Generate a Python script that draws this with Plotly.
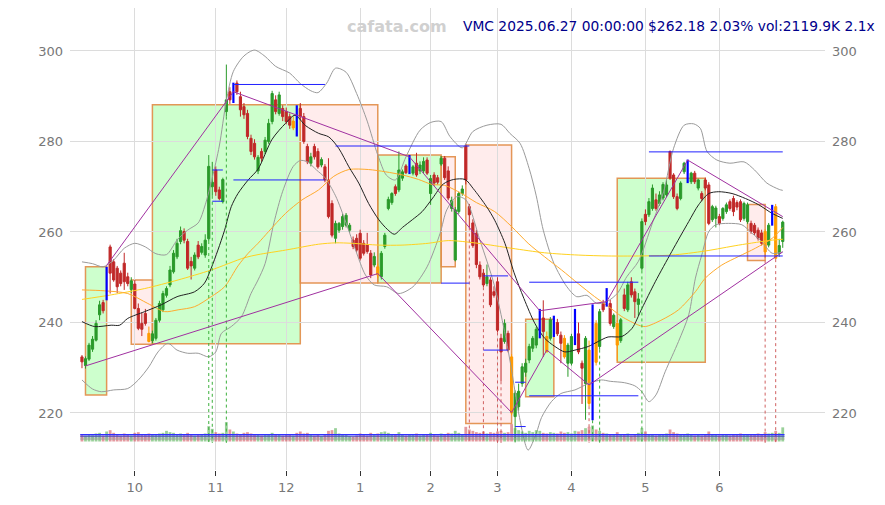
import pandas as pd
import plotly.graph_objects as go

# ---------------- data ----------------
holidays = ['2024-11-28', '2024-12-25', '2025-01-01', '2025-01-09', '2025-01-20',
            '2025-02-17', '2025-04-18', '2025-05-26', '2025-06-19']
dates = pd.bdate_range('2024-09-10', '2025-06-27', freq='C', holidays=holidays)

opens = [232.4,230.5,231.9,234.1,236.1,241.7,244.4,246.4,256.7,253.4,
 252.0,250.9,253.1,250.1,247.3,248.5,243.1,239.8,242.0,237.6,
 236.0,236.5,240.5,242.8,246.0,248.3,251.2,254.5,257.9,260.1,
 257.9,253.5,252.0,257.1,255.5,254.9,258.5,270.0,273.7,269.3,
 266.7,286.6,291.0,289.2,292.9,289.9,287.7,286.2,280.7,279.6,
 273.5,277.8,277.8,280.0,284.4,289.2,286.2,287.3,286.6,285.5,
 283.0,286.8,287.3,285.5,278.9,275.2,278.9,277.8,274.8,274.4,
 271.5,266.3,258.6,260.4,261.2,261.5,260.4,258.2,258.6,259.7,
 257.5,257.1,255.3,252.7,252.3,250.1,256.8,265.2,266.5,270.0,
 269.3,271.9,274.6,273.3,273.0,275.2,273.5,273.5,275.9,268.5,
 272.6,272.0,275.0,276.3,273.5,265.2,253.8,264.5,268.5,279.0,
 265.6,262.0,259.7,252.7,250.9,248.6,249.4,246.8,249.0,236.5,
 235.8,237.6,232.4,219.2,221.4,226.5,229.0,231.7,234.3,235.0,
 237.0,241.0,236.9,236.5,237.2,240.0,237.2,236.5,231.0,231.0,
 235.4,237.5,231.0,226.5,233.9,223.0,239.8,234.7,244.2,243.9,
 244.2,239.1,239.8,236.0,246.1,242.8,249.0,246.8,244.0,252.0,
 263.9,263.8,265.2,267.1,266.3,267.5,268.2,277.8,272.6,267.8,
 267.4,273.3,271.1,271.1,273.0,269.7,268.5,271.5,270.4,262.7,
 263.0,263.4,263.0,264.5,266.7,267.4,266.5,266.7,263.0,262.3,
 261.9,261.5,260.4,259.8,260.1,257.1,261.9,265.6,255.3,257.9]

highs = [232.8,232.5,235.5,237.0,240.5,244.8,245.0,252.3,257.2,254.0,
 252.5,251.5,255.4,251.0,250.0,249.4,244.2,242.2,243.0,239.1,
 238.2,241.0,244.8,247.0,248.0,252.5,256.0,258.5,261.2,260.8,
 258.5,254.5,255.5,258.0,257.5,259.5,277.0,275.5,274.5,270.0,
 272.0,297.0,292.0,293.0,293.5,291.0,288.5,287.0,281.5,280.5,
 277.0,278.5,281.0,285.0,291.2,290.2,291.0,288.0,287.5,286.2,
 285.5,288.0,288.5,286.3,279.5,277.5,279.5,278.5,276.5,275.0,
 276.3,267.0,262.5,262.2,264.0,264.2,262.0,259.0,259.5,260.5,
 258.2,259.8,256.0,255.5,253.0,255.8,259.8,267.8,268.8,270.5,
 277.8,273.8,275.0,277.0,274.8,277.5,275.6,276.5,276.5,272.6,
 273.2,272.6,276.8,276.8,274.5,267.8,265.5,268.9,270.3,279.5,
 266.2,262.8,260.5,253.5,251.8,252.8,250.0,248.0,250.0,237.5,
 240.7,238.2,233.0,225.0,226.5,231.0,232.0,235.3,237.0,239.0,
 243.0,244.9,238.0,241.2,241.5,240.8,238.0,237.2,235.5,237.5,
 243.0,240.0,231.6,237.0,236.0,244.0,240.5,243.0,245.0,247.6,
 245.0,242.0,240.5,241.0,247.5,249.0,250.0,247.5,246.5,263.0,
 265.0,267.5,270.5,268.5,269.0,271.0,271.5,278.0,273.0,268.5,
 271.2,275.5,276.0,273.3,273.5,271.8,269.0,272.0,271.0,266.0,
 265.8,264.0,265.5,266.5,267.2,268.0,267.0,267.2,266.7,266.5,
 262.5,262.0,261.0,260.5,260.6,262.0,266.0,266.2,258.5,262.5]

lows = [229.9,229.8,231.5,233.5,235.8,240.5,242.0,244.9,246.4,249.0,
 246.5,248.0,247.2,248.0,246.5,242.9,238.3,237.0,239.3,235.6,
 235.4,236.0,240.0,242.3,245.5,247.8,250.8,254.0,257.3,257.5,
 251.6,249.5,251.5,254.0,255.0,254.3,258.0,268.0,268.0,267.0,
 266.3,285.5,288.3,288.5,290.3,285.5,285.0,280.5,277.0,276.0,
 272.8,275.5,277.2,279.5,283.8,286.0,285.7,284.5,283.8,282.8,
 282.5,281.1,284.8,279.5,275.0,274.5,276.0,274.0,274.3,271.0,
 263.0,258.8,257.5,259.8,260.5,261.0,259.8,256.2,255.5,253.7,
 254.8,255.2,249.8,252.2,249.8,249.5,256.3,264.8,266.0,268.0,
 268.8,271.3,272.8,272.8,272.5,272.2,272.8,273.0,272.6,266.0,
 270.2,270.5,274.6,271.5,267.0,264.5,253.5,264.0,268.0,270.5,
 261.0,256.5,252.0,249.5,247.8,248.0,243.4,245.5,237.8,227.0,
 235.3,233.4,219.5,213.5,220.5,225.8,228.0,231.0,233.5,234.3,
 236.5,232.4,233.4,236.0,236.8,237.0,231.0,232.0,228.0,230.5,
 235.0,233.0,222.0,218.5,221.5,218.4,230.5,234.0,242.3,243.5,
 239.3,238.6,231.5,235.5,242.5,242.3,245.5,241.0,241.5,251.5,
 261.5,263.3,264.7,264.7,265.8,267.0,267.7,271.5,267.3,264.8,
 267.0,272.8,270.8,270.6,270.6,269.2,266.8,269.2,261.5,262.2,
 261.0,261.5,262.5,264.0,264.7,263.5,264.8,262.2,262.5,261.8,
 259.6,259.3,258.1,257.0,255.0,256.6,261.4,254.0,254.5,256.5]

closes = [231.3,232.0,235.0,236.3,239.8,243.9,242.6,251.0,250.9,249.4,
 247.9,248.6,249.0,248.6,249.2,243.1,238.7,238.5,239.8,235.8,
 237.5,240.5,244.2,246.4,247.5,251.6,255.3,257.5,260.3,258.2,
 252.0,252.5,254.9,254.5,256.8,258.2,274.5,271.0,268.9,267.4,
 271.6,289.2,289.2,292.5,291.0,287.0,285.9,281.1,277.8,276.6,
 276.5,276.3,280.3,284.0,290.6,286.6,290.3,285.5,284.4,283.6,
 284.5,282.5,285.5,280.0,275.5,276.6,276.6,274.4,276.0,271.5,
 263.4,259.3,261.9,261.9,263.4,263.7,261.5,256.8,256.0,254.2,
 255.3,255.7,250.5,254.6,250.5,255.3,259.3,267.2,268.5,268.5,
 273.7,273.3,273.1,276.6,274.4,272.6,274.8,275.6,273.0,271.8,
 270.8,271.0,276.3,272.0,267.5,267.0,264.9,268.5,269.5,271.5,
 263.8,257.0,252.8,250.1,248.3,250.1,243.9,246.0,238.3,233.5,
 239.8,233.9,220.0,224.4,224.8,230.2,231.0,234.7,236.5,238.5,
 242.5,238.0,233.5,240.6,241.0,237.5,235.4,232.4,235.0,236.9,
 242.0,233.5,229.9,236.5,222.1,243.5,231.2,242.4,242.8,247.0,
 239.8,241.6,235.0,240.6,243.1,248.3,246.1,244.6,245.2,262.3,
 262.3,266.7,269.7,265.2,268.2,270.5,270.4,271.9,267.8,265.2,
 270.8,275.2,275.9,273.0,271.1,271.5,267.4,269.7,261.9,265.6,
 265.3,261.9,265.2,266.0,265.2,264.5,265.5,262.7,266.3,266.0,
 260.1,259.8,258.6,257.5,255.6,261.5,265.6,254.2,257.0,262.18]

volumes_k = [1100,900,1000,950,1200,1300,900,1500,1700,1300,
 1100,900,1200,1000,900,1300,1400,1100,1000,1200,
 1000,1100,1200,1300,1600,1400,1300,1100,1200,1000,
 1300,1000,900,1100,1000,1200,2300,1900,1400,1200,
 1300,2900,1800,1500,1200,1100,1300,1400,1200,1100,
 1000,900,1000,1100,1300,1000,1100,900,1000,1100,
 900,1300,1500,1200,1300,1000,900,1000,800,1100,
 1600,1700,2000,1200,1000,1100,800,700,900,1200,
 1000,900,1300,1100,1200,1400,1500,1300,1100,1000,
 1400,1000,900,1100,1000,1200,900,1000,1100,1300,
 1000,900,1200,1100,1300,1200,1600,1300,1100,2200,
 1800,1600,1400,1300,1500,1200,1400,1300,1500,1600,
 1300,1400,2600,2000,1700,1500,1300,1600,1400,1700,
 1600,1300,1200,1400,1300,1200,1500,1300,1400,1200,
 1600,1500,1700,2000,2200,2400,1800,1600,1300,1200,
 1100,1000,1400,1000,1100,1200,900,1000,1300,2000,
 1500,1100,1000,900,1100,1000,1200,1800,1400,1200,
 1000,1100,1200,1000,900,1000,900,1100,1500,1100,
 1000,900,1000,1100,900,1000,1000,1200,1100,1000,
 1100,1000,1200,1100,1400,1200,1300,1600,1300,2120]

blue_idx = [7, 43, 61, 93, 130, 134, 140, 145, 149, 172, 196]
orange_idx = [19, 60, 84, 122, 132, 137, 144, 146, 152, 194, 197]

# moving averages / bands (index, price)
ma_black_i = [0,3.6,8.3,10.7,13,17.8,22.5,27,32,34.8,36.7,38.6,40.5,42.4,44.3,47.2,50,54,57.8,60.5,63.5,67.2,70.1,72.9,75.8,78.6,81.4,84.3,86.7,88.7,91,93.8,96.6,99.6,102.6,105.5,108.8,111.1,114.9,117.2,120.1,122.7,125.5,128.6,131.4,134.3,137.1,140,143.8,146.6,149.4,153.3,156.2,159,162.8,167.5,172.3,175.1,178,180.8,184.6,188.4,192.2,196,199]
ma_black_p = [240.2,239.1,239.4,239.4,240.9,242.4,243.9,245.7,246.8,248.7,252,256,260.4,265.6,268.5,271.5,273.9,280.5,284,285.8,283.5,281.8,281,278.5,274.4,270.8,266.3,262.7,260.6,259.5,261,262.7,264.5,267.5,270.6,271.6,271.6,269.6,265.6,262.6,257.5,251,245.3,239.8,236.5,234.7,233.5,233.9,234.7,235.8,236.8,236.9,238.7,243.1,249,255.7,262.3,266,268.5,268.9,268.5,267.4,266,264.1,263]

ma_orange_i = [0,6.4,13,18.7,23.5,27.3,32,36.7,40.5,44.3,47.2,50,53,57.8,62.5,67.2,71.5,75.8,81.4,86.2,91,95.6,99.4,103,107.8,112,117.2,122,126.7,131.4,136.2,140.9,145.6,149.4,153.3,158.1,160,164.7,169.4,174.2,177,181.7,186.5,191.2,196,199]
ma_orange_p = [247.2,247,246.4,244.2,242.4,242.8,243.5,245.7,247.9,252.5,255.3,257.5,260.1,264.1,267.1,269.3,272.3,273.8,273.8,273.3,272.6,271.6,270.5,270.3,268.5,266.5,264.5,261.2,257.5,254.5,251.6,248.6,245.7,243.6,241.3,239.4,239.1,240.6,242.8,246.8,249.8,252.7,254.6,256.4,258.6,261]

ma_yellow_i = [0,8.3,17.8,27.3,36.7,46.1,50,57.8,67.2,72,76.7,84.3,90.9,98.3,104,112.5,122,131.4,140.9,149.4,158,167.5,177,186.5,196,199]
ma_yellow_p = [245.1,246.1,247.5,249.4,251.6,254.3,255,256,257.3,257.6,257.5,257.1,257.1,257.5,258.1,257.5,256.4,255.4,254.9,254.7,254.7,254.9,255.8,257.1,258.2,258.4]

bb_up_i = [0,3,6,9,12,15,18,21,24,27,30,33,35,37,39,41,43,46,49,52,55,59,62,65,67,69.5,72,75,78,81,84,86.5,89,92,96,99,102,104.5,108,111,115,119,121.5,124.4,127,129,131,134,137.7,140.5,143.4,146.2,149,152,154.7,158,162,165.2,168,171,173.7,175.6,177.5,180.3,184,188,191,194.5,198,199]
bb_up_p = [253.4,253,252.3,253.8,256.4,257.5,256.7,255.2,255,258.2,260.4,262,266,272,279,289,295.5,298.9,300.2,298.8,296.6,295.1,292.8,291.2,290.8,292.9,296.2,295.3,290.6,284.5,277,272.5,271.5,276.6,282.5,284.2,284.4,281.1,278.6,282.2,283.6,283.8,281.8,279.6,274,268,260.4,253.1,247.9,245.7,246,244.2,244.6,246.4,250.1,253.5,262,269,278.5,283.6,283.9,282.9,277.8,275.9,275.2,275.5,273.7,270.8,269.4,269.2]

bb_lo_i = [0,3,5.5,9,13,16,19,21.6,24.4,27,30,33,36,38,39.6,42.4,45.3,48,50,52,54.5,57,60,62,64,66.6,69,72,75,77.7,80.5,83,86.5,90,94,98,101.7,103.6,106.4,109,113,117,120,122,124,126.7,129,130.5,133.3,136,140,143.8,147.5,150,154,157,159,161,163,165.6,169.4,172.3,174.2,176,178,180,183.6,187.4,190.3,193,196,199]
bb_lo_p = [227.3,225.3,224.7,225.1,225.4,227.3,230.2,233.5,235.4,233.9,233.2,233.2,232.4,233.5,237.6,239.1,241.3,246.4,249.4,253,262,269,274.5,275.8,275.5,273.7,272,268,262,256,250.5,248.3,247.9,246.4,247.9,252.3,259.7,264.9,267.8,267.1,258.2,248.5,238,229.5,220,211.8,215.5,219,222.5,224.3,225.1,226.5,227.3,227,226.7,226,224.7,222.5,224,229.1,235.8,241.7,249.8,254.9,260.1,261.6,261.9,261.6,259.7,257.9,255.3,255.6]

# trend lines through pivots
up_trend_i = [7, 43, 93, 130, 149, 172, 199]
up_trend_p = [252.6, 291.0, 276.6, 242.6, 244.6, 275.9, 263.4]
lo_trend_i = [1, 84, 122, 132, 144, 199]
lo_trend_p = [230.4, 250.8, 220.1, 233.9, 226.2, 255.6]

# support / resistance segments (start idx, end idx, price)
hl_start = [43, 43, 37, 37, 72, 102, 114, 114, 123, 123, 127, 127, 161, 161]
hl_end = [69, 69, 40, 40, 110, 110, 121, 121, 126, 126, 158, 158, 199, 199]
hl_price = [292.6, 271.5, 273.7, 266.8, 279.0, 248.7, 250.3, 233.9, 226.8, 217.0, 248.9, 223.8, 277.7, 254.7]

# zones (start idx, end idx, low, high, kind)
box_start = [1, 14, 20, 62, 84, 102, 109, 126, 152, 189]
box_end = [7, 20, 62, 84, 102, 106, 122, 134, 177, 194]
box_low = [224.0, 235.2, 235.3, 248.7, 248.7, 252.3, 217.7, 223.6, 231.2, 253.7]
box_high = [252.3, 249.4, 288.1, 288.1, 277.0, 276.6, 279.2, 240.7, 271.9, 266.1]
box_kind = ['up', 'down', 'up', 'down', 'up', 'down', 'down', 'up', 'up', 'down']

dot_green_idx = [36, 37, 41, 145, 147, 159]
dot_red_idx = [110, 114, 118, 119, 144, 194, 197]

vol_line_levels = [1020, 720, 375]

y_ticks = [220, 240, 260, 280, 300]
title_text = "VMC 2025.06.27 00:00:00 $262.18 2.03% vol:2119.9K 2.1x"
watermark = "cafata.com"

# ---------------- figure ----------------
idx = list(range(len(dates)))
month_ticks = [i for i in idx[1:] if dates[i].month != dates[i - 1].month]
month_labels = [str(dates[i].month) for i in month_ticks]

fig = go.Figure()

for x0, x1, y0, y1, k in zip(box_start, box_end, box_low, box_high, box_kind):
    fig.add_shape(type='rect', xref='x', yref='y', x0=x0, x1=x1, y0=y0, y1=y1,
                  fillcolor='rgba(60,255,60,0.26)' if k == 'up' else 'rgba(255,170,170,0.22)',
                  line=dict(color='rgba(225,140,70,0.9)', width=1.5), layer='below')

# volume
vol_colors = ['rgba(70,170,70,0.55)' if c >= o else 'rgba(205,70,80,0.55)'
              for o, c in zip(opens, closes)]
for lvl, col, w in zip(vol_line_levels, ['#3030ff', '#5050b0', '#999999'], [1.5, 1, 1]):
    fig.add_trace(go.Scatter(x=[-0.5, idx[-1] + 0.5], y=[lvl, lvl], mode='lines',
                             line=dict(color=col, width=w), yaxis='y3', hoverinfo='skip'))
fig.add_trace(go.Bar(x=idx, y=volumes_k, marker=dict(color=vol_colors, line=dict(width=0)),
                     width=0.8, yaxis='y3', hoverinfo='skip'))

# bands and averages
for xs, ys, col in [(bb_up_i, bb_up_p, '#9a9a9a'), (bb_lo_i, bb_lo_p, '#9a9a9a'),
                    (ma_yellow_i, ma_yellow_p, '#ffd21f'), (ma_orange_i, ma_orange_p, '#ffab2e'),
                    (ma_black_i, ma_black_p, '#222222')]:
    fig.add_trace(go.Scatter(x=xs, y=ys, mode='lines', line=dict(color=col, width=1, shape='spline', smoothing=0.8),
                             hoverinfo='skip'))

# dotted verticals
for lst, col in [(dot_green_idx, '#3cb03c'), (dot_red_idx, '#d06060')]:
    xs, ys = [], []
    for i in lst:
        xs += [i, i, None]
        ys += [lows[i], 213.4, None]
    fig.add_trace(go.Scatter(x=xs, y=ys, mode='lines', line=dict(color=col, width=1, dash='dot'),
                             hoverinfo='skip'))

# candles
normal = [i for i in idx if i not in blue_idx and i not in orange_idx]
fig.add_trace(go.Candlestick(
    x=normal, open=[opens[i] for i in normal], high=[highs[i] for i in normal],
    low=[lows[i] for i in normal], close=[closes[i] for i in normal],
    increasing=dict(line=dict(color='#2a9a2a', width=1), fillcolor='#2a9a2a'),
    decreasing=dict(line=dict(color='#c02828', width=1), fillcolor='#c02828'),
    hoverinfo='skip'))
fig.add_trace(go.Candlestick(
    x=orange_idx, open=[opens[i] for i in orange_idx], high=[highs[i] for i in orange_idx],
    low=[lows[i] for i in orange_idx], close=[closes[i] for i in orange_idx],
    increasing=dict(line=dict(color='#ff9a00', width=1), fillcolor='#ff9a00'),
    decreasing=dict(line=dict(color='#ff9a00', width=1), fillcolor='#ff9a00'),
    hoverinfo='skip'))
bx, by = [], []
for i in blue_idx:
    bx += [i, i, None]
    by += [lows[i], highs[i], None]
fig.add_trace(go.Scatter(x=bx, y=by, mode='lines', line=dict(color='#0000ff', width=2.2), hoverinfo='skip'))

# trend lines
fig.add_trace(go.Scatter(x=up_trend_i, y=up_trend_p, mode='lines', line=dict(color='#a030a0', width=1), hoverinfo='skip'))
fig.add_trace(go.Scatter(x=lo_trend_i, y=lo_trend_p, mode='lines', line=dict(color='#a030a0', width=1), hoverinfo='skip'))

# horizontal levels
hx, hy = [], []
for s, e, p in zip(hl_start, hl_end, hl_price):
    hx += [s, e, None]
    hy += [p, p, None]
fig.add_trace(go.Scatter(x=hx, y=hy, mode='lines', line=dict(color='#2020ff', width=1), hoverinfo='skip'))

# dummy for right axis
fig.add_trace(go.Scatter(x=[idx[-1]], y=[closes[-1]], mode='markers', marker=dict(opacity=0),
                         yaxis='y2', hoverinfo='skip'))

yr = [207.4, 309.5]
fig.update_layout(
    width=877, height=497, showlegend=False,
    margin=dict(l=62, r=60, t=0, b=35),
    paper_bgcolor='white', plot_bgcolor='white',
    boxgap=0.12,
    font=dict(family='DejaVu Sans', size=13, color='#777777'),
    xaxis=dict(range=[-3.4, 211], tickvals=month_ticks, ticktext=month_labels,
               showgrid=True, gridcolor='#dcdcdc', gridwidth=1, zeroline=False,
               ticks='outside', ticklen=5, tickcolor='#333333',
               rangeslider=dict(visible=False), showline=False,
               tickfont=dict(size=13, color='#777777')),
    yaxis=dict(range=yr, tickvals=y_ticks, side='left', showgrid=True, gridcolor='#dcdcdc',
               zeroline=False, showline=False, ticks='', ticklabelstandoff=6,
               tickfont=dict(size=13, color='#777777')),
    yaxis2=dict(range=yr, tickvals=y_ticks, side='right', overlaying='y', showgrid=False,
                zeroline=False, showline=False, ticks='', ticklabelstandoff=6,
                tickfont=dict(size=13, color='#777777')),
    yaxis3=dict(range=[-4276, 65024], overlaying='y', visible=False),
    annotations=[
        dict(text=title_text, xref='paper', yref='paper', x=1.0686, y=0.961,
             xanchor='right', yanchor='middle', showarrow=False,
             font=dict(family='DejaVu Sans', size=13.8, color='#00008b')),
        dict(text='<b>' + watermark + '</b>', xref='paper', yref='paper', x=0.433, y=0.961,
             xanchor='center', yanchor='middle', showarrow=False,
             font=dict(family='DejaVu Sans', size=16, color='#d0d0d0')),
    ],
)

fig.write_html('out.html')
